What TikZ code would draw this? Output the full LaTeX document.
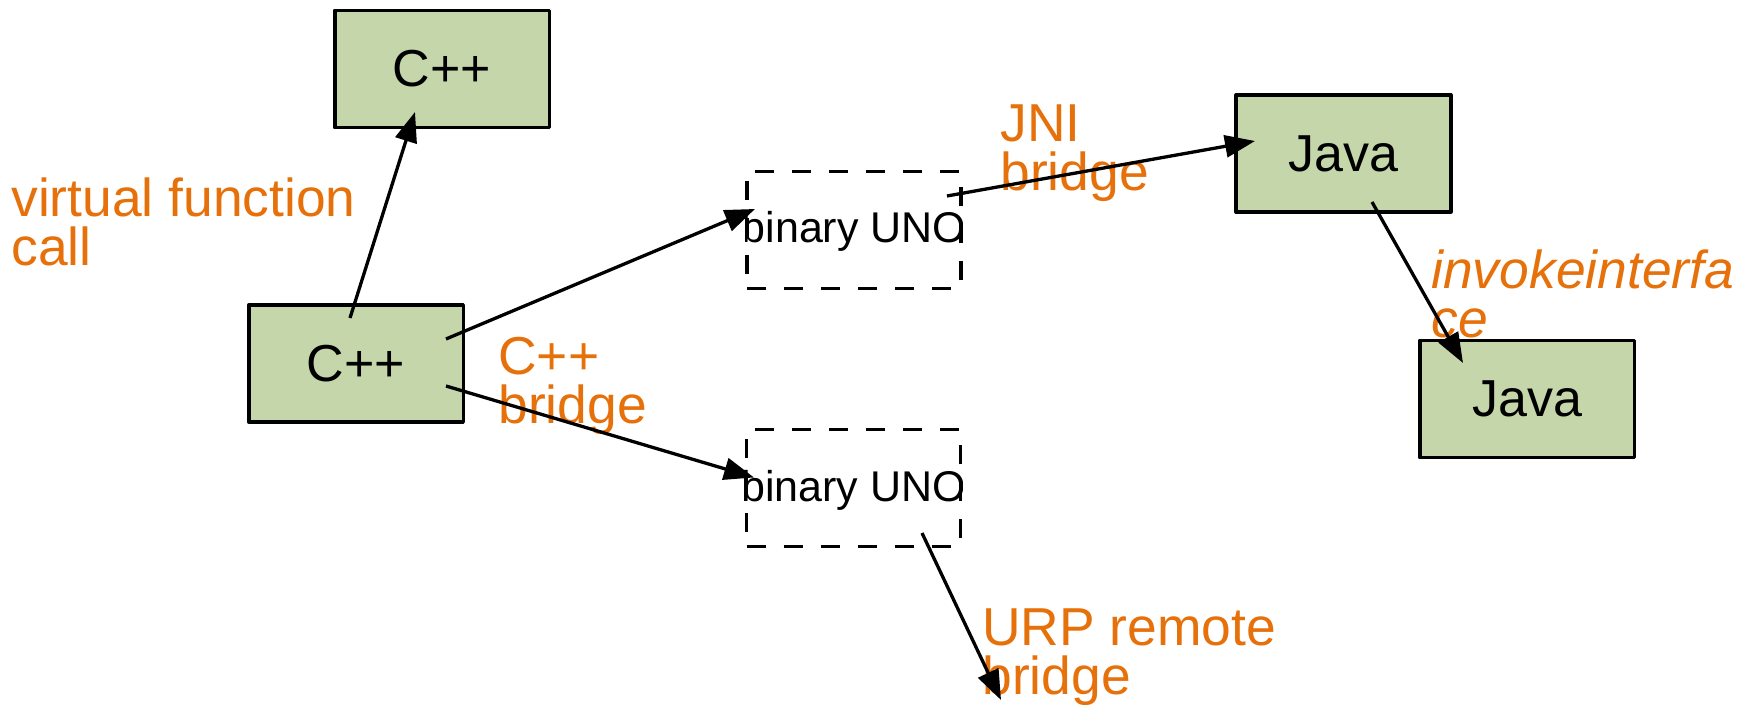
\documentclass[tikz,border=0pt]{standalone}
\usepackage{fontspec}
\setmainfont{Liberation Sans}
\usetikzlibrary{arrows.meta}
\definecolor{boxgreen}{RGB}{197,214,171}
\definecolor{labelorange}{RGB}{230,112,10}
\begin{document}
\begin{tikzpicture}[x=0.5pt,y=-0.5pt,
  comp/.style={draw=black, line width=1.8pt, line join=round, fill=boxgreen,
    minimum width=107.3pt, minimum height=58.5pt, inner sep=0pt,
    font=\fontsize{26}{30}\selectfont},
  unobox/.style={draw=black, line width=1.75pt, dash pattern=on 9.5pt off 9pt,
    minimum width=107pt, minimum height=58.5pt, inner sep=0pt},
  unotext/.style={anchor=base, inner sep=0pt, font=\fontsize{21.5}{24}\selectfont},
  lbl/.style={text=labelorange, inner sep=0pt, align=left, anchor=base west,
    font=\fontsize{26.7}{24.5}\selectfont},
  link/.style={line width=1.65pt, -{Triangle[length=15pt,width=11pt]}}]

\useasboundingbox (0,0) rectangle (1752,705);

% component boxes
\node[comp] (cT) at (442,69) {C++};
\node[comp] (cL) at (356,363.5) {C++};
\node[comp] (jT) at (1343.5,153.5) {Java};
\node[comp] (jB) at (1527,399) {Java};

% binary UNO boxes, text clipped to the dashed frame
\node[unobox] (u1) at (854,230) {};
\begin{scope}
  \clip (u1.south west) rectangle (u1.north east);
  \node[unotext] (u1t) at ([yshift=-6.5pt]u1.center) {binary UNO};
\end{scope}
\node[unobox] (u2) at (853.5,488) {};
\begin{scope}
  \clip (u2.south west) rectangle (u2.north east);
  \node[unotext] (u2t) at ([yshift=-7pt]u2.center) {binary UNO};
\end{scope}

% bridge labels (anchored at the baseline of their last line)
\node[lbl] (lvf) at (11,266) {virtual function\\call};
\node[lbl] (lcb) at (498,424) {C++\\bridge};
\node[lbl] (ljni) at (1000,191) {JNI\\bridge};
\node[lbl, font=\fontsize{26.7}{24.5}\selectfont\itshape] (linv) at (1431,338) {invokeinterfa\\ce};
\node[lbl] (lurp) at (982,694) {URP remote\\bridge};

% connectors
\coordinate (urpEnd) at (1001,700);
\draw[link] ([shift={(-6,-45.5)}]cL.center) -- ([shift={(-27,43)}]cT.center);
\draw[link] ([shift={(90,-24.5)}]cL.center) -- ([shift={(-99,-21)}]u1.center);
\draw[link] ([shift={(90,22.5)}]cL.center) -- ([shift={(-99.5,-10.5)}]u2.center);
\draw[link] ([shift={(93,-34)}]u1.center) -- ([shift={(-88.5,-12.5)}]jT.center);
\draw[link] ([shift={(28.5,48.5)}]jT.center) -- ([shift={(-64,-36)}]jB.center);
\draw[link] ([shift={(68.5,45)}]u2.center) -- (urpEnd);
\end{tikzpicture}
\end{document}
